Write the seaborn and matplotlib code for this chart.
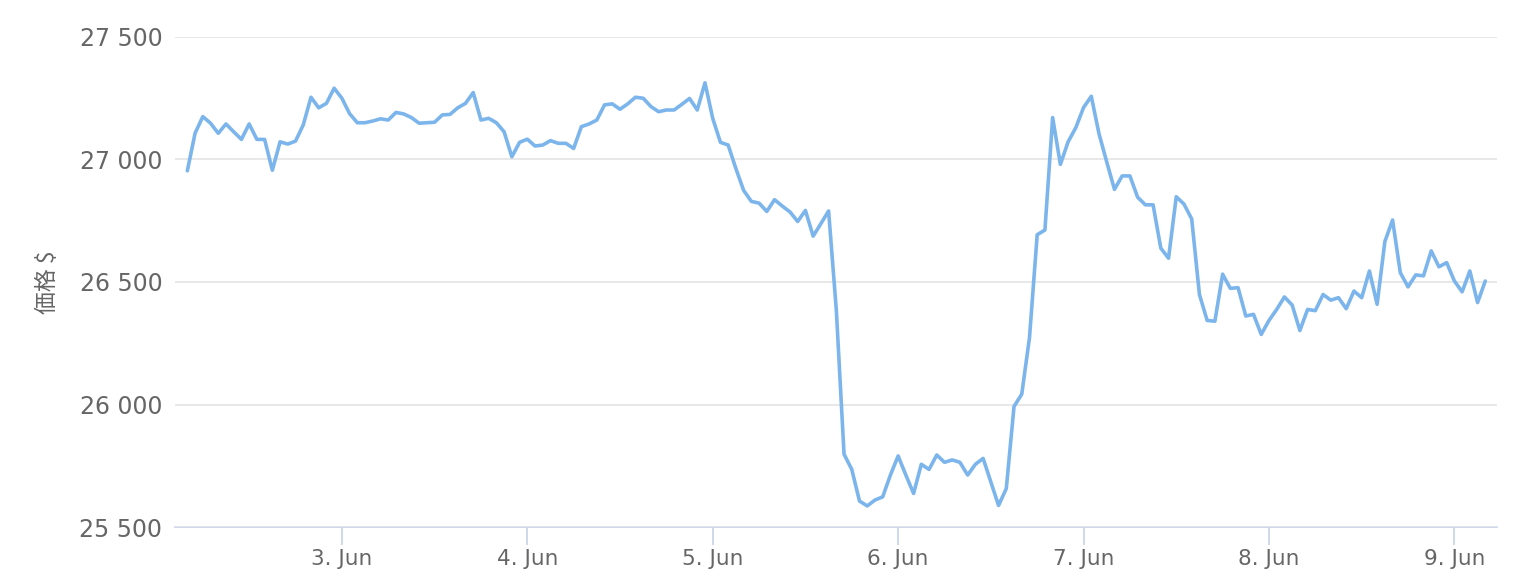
import matplotlib.dates as mdates
import matplotlib.pyplot as plt
import pandas as pd
import seaborn as sns
from matplotlib.ticker import FuncFormatter

# Hourly price, 2 Jun 04:00 -> 9 Jun 04:00
START_TIME = "2023-06-02 04:00"
prices = [
    26954, 27107, 27175, 27148, 27107, 27145, 27113, 27082, 27145, 27082,
    27082, 26956, 27072, 27063, 27075, 27141, 27254, 27211, 27229, 27291,
    27250, 27187, 27150, 27150, 27157, 27166, 27161, 27192, 27186, 27171,
    27148, 27150, 27152, 27182, 27184, 27211, 27229, 27273, 27161, 27168,
    27150, 27113, 27011, 27070, 27083, 27055, 27059, 27077, 27066, 27066,
    27045, 27134, 27145, 27161, 27223, 27227, 27205, 27227, 27254, 27250,
    27216, 27195, 27202, 27202, 27225, 27249, 27202, 27313, 27168, 27070,
    27059, 26963, 26874, 26829, 26822, 26788, 26836, 26810, 26786, 26747,
    26792, 26687, 26738, 26790, 26385, 25797, 25735, 25606, 25586, 25610,
    25623, 25712, 25790, 25712, 25637, 25756, 25735, 25794, 25764, 25774,
    25764, 25712, 25756, 25780, 25684, 25588, 25657, 25992, 26042, 26272,
    26693, 26712, 27171, 26980, 27072, 27130, 27212, 27258, 27105, 26990,
    26878, 26933, 26933, 26846, 26815, 26815, 26638, 26597, 26848, 26818,
    26757, 26449, 26343, 26340, 26532, 26474, 26477, 26361, 26368, 26286,
    26343, 26388, 26439, 26406, 26302, 26388, 26383, 26449, 26426, 26436,
    26391, 26463, 26436, 26545, 26409, 26665, 26753, 26538, 26480, 26529,
    26525, 26627, 26562, 26579, 26504, 26460, 26545, 26416, 26504,
]
y_ticks = [25500, 26000, 26500, 27000, 27500]
y_label = "価格 $"

LINE_COLOR = "#7cb5ec"
TEXT_COLOR = "#666666"
GRID_COLOR = "#e6e6e6"
AXIS_COLOR = "#ccd6eb"


def build_frame():
    times = pd.date_range(START_TIME, periods=len(prices), freq="h")
    return pd.DataFrame({"time": times, "price": prices})


def draw(df):
    sns.set_theme(style="white")
    plt.rcParams["font.family"] = ["DejaVu Sans", "Noto Sans CJK JP"]

    fig = plt.figure(figsize=(15.31, 5.87), dpi=100)
    ax = fig.add_axes([0.1143, 0.1022, 0.8635, 0.8348])

    sns.lineplot(data=df, x="time", y="price", ax=ax,
                 color=LINE_COLOR, linewidth=2.6)

    # a little padding left/right like highcharts
    ax.set_xlim(df["time"].iloc[0] - pd.Timedelta(minutes=96),
                df["time"].iloc[-1] + pd.Timedelta(minutes=91))
    ax.set_ylim(y_ticks[0], y_ticks[-1])

    ax.set_yticks(y_ticks)
    ax.yaxis.set_major_formatter(
        FuncFormatter(lambda v, _: f"{int(v):,}".replace(",", " ")))
    ax.xaxis.set_major_locator(mdates.DayLocator())
    ax.xaxis.set_major_formatter(
        FuncFormatter(lambda v, _: mdates.num2date(v).strftime("%-d. %b")))

    ax.grid(axis="y", color=GRID_COLOR, linewidth=1.3)
    ax.grid(axis="x", visible=False)
    for side in ["left", "right", "top"]:
        ax.spines[side].set_visible(False)
    ax.spines["bottom"].set_color(AXIS_COLOR)
    ax.spines["bottom"].set_linewidth(1.3)
    ax.spines["bottom"].set_zorder(0.5)

    ax.tick_params(axis="y", length=0, pad=9, labelsize=17,
                   labelcolor=TEXT_COLOR)
    ax.tick_params(axis="x", bottom=True, length=13, width=1.3,
                   color=AXIS_COLOR, pad=3, labelsize=15.5,
                   labelcolor=TEXT_COLOR)

    ax.set_xlabel("")
    ax.set_ylabel(y_label, fontsize=16.5, color=TEXT_COLOR,
                  family=["Noto Sans CJK JP", "DejaVu Sans"])
    ax.yaxis.set_label_coords(-0.088, 0.5)

    fig.savefig("out.png", dpi=100)


if __name__ == "__main__":
    draw(build_frame())
